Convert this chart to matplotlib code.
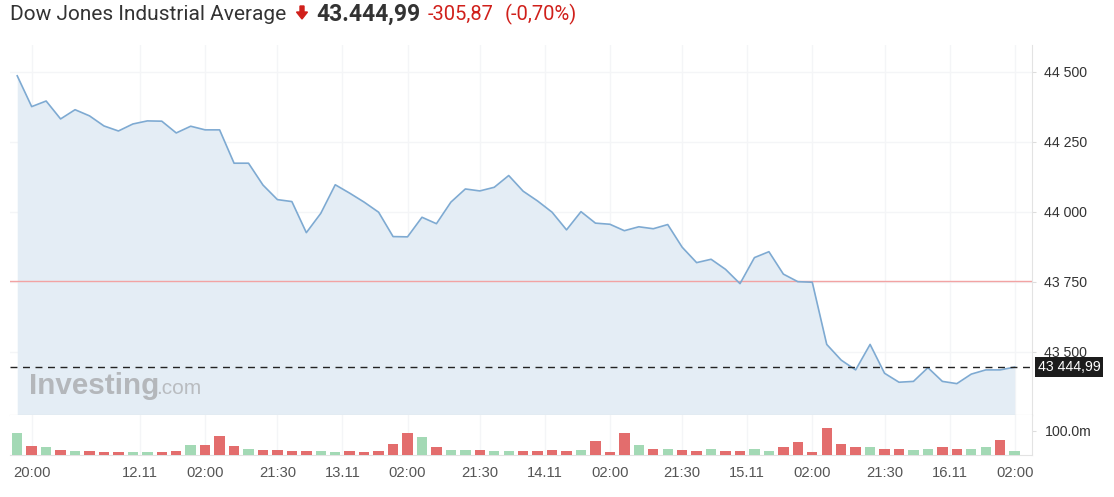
import numpy as np
import matplotlib
matplotlib.use("Agg")
import matplotlib.pyplot as plt
from matplotlib.patches import FancyArrow

# --- data ---
closes = [44485, 44375, 44395, 44331, 44364, 44342, 44306, 44288, 44313, 44324,
          44323, 44281, 44305, 44292, 44292, 44173, 44173, 44095, 44043, 44036,
          43925, 43994, 44096, 44066, 44034, 43998, 43911, 43910, 43980, 43957,
          44034, 44081, 44074, 44087, 44129, 44073, 44038, 43998, 43935, 44000,
          43959, 43955, 43932, 43946, 43939, 43954, 43873, 43818, 43830, 43794,
          43743, 43836, 43857, 43777, 43750, 43748, 43526, 43470, 43435, 43526,
          43423, 43391, 43394, 43443, 43394, 43386, 43420, 43435, 43435, 43444.99]

volumes = [89, 37, 32, 22, 15, 17, 11, 11, 11, 11,
           11, 17, 42, 43, 79, 37, 26, 22, 22, 17,
           17, 15, 11, 17, 11, 17, 47, 89, 75, 32,
           21, 21, 21, 15, 15, 17, 17, 21, 17, 21,
           58, 11, 89, 43, 26, 26, 21, 17, 26, 17,
           17, 26, 17, 32, 53, 11, 111, 47, 32, 32,
           26, 26, 21, 26, 32, 26, 26, 32, 62, 15]  # millions

vol_dir = list("GRGRGRRRGGRRGRRRGRRRRGGRRRRRGRGGRGGRRRRGRRRGRGRRGRRGGRRRRRRGRRGGRRGGRG")

tick_pos = [1, 8.5, 13, 18, 22.5, 27, 32, 36.5, 41, 46, 50.5, 55, 60, 64.5, 69]
tick_labels = ["20:00", "12.11", "02:00", "21:30", "13.11", "02:00", "21:30", "14.11",
               "02:00", "21:30", "15.11", "02:00", "21:30", "16.11", "02:00"]

price_ticks = [43500, 43750, 44000, 44250, 44500]
price_tick_labels = ["43 500", "43 750", "44 000", "44 250", "44 500"]
prev_close = 43750.86
last_price = 43444.99

title = "Dow Jones Industrial Average"
last_text = "43.444,99"
change_text = "-305,87"
pct_text = "(-0,70%)"

# --- styling ---
LINE = "#7eaad2"
FILL = "#e4edf5"
UP = "#a3d9b5"
DOWN = "#e36d6d"
GRID = "#f4f5f7"
TXT = "#333333"

W, H = 1114, 497
fig = plt.figure(figsize=(W / 100, H / 100), dpi=100)

def frac(x0, y0, x1, y1):
    return [x0 / W, 1 - y1 / H, (x1 - x0) / W, (y1 - y0) / H]

ax = fig.add_axes(frac(10, 45, 1032, 415))
axv = fig.add_axes(frac(10, 415, 1032, 455), sharex=ax)

x = np.arange(len(closes))
ax.set_axisbelow(True)
ax.fill_between(x, closes, 43000, color=FILL, lw=0, zorder=1)
ax.plot(x, closes, color=LINE, lw=1.2, zorder=3)
ax.axhline(prev_close, color="#f2a3a3", lw=1, zorder=2)
ax.axhline(last_price, color="#222222", lw=1, ls=(0, (5, 4)), zorder=4)

ax.set_xlim(-0.5, 70.2)
ax.set_ylim(43274, 44595)
ax.yaxis.tick_right()
ax.set_yticks(price_ticks)
ax.set_yticklabels(price_tick_labels)
ax.tick_params(axis="y", length=3, color="#dddddd", labelsize=10.2, labelcolor=TXT, pad=6)
ax.tick_params(axis="x", length=0, labelbottom=False)
ax.set_xticks(tick_pos)
ax.grid(True, color=GRID, lw=1, zorder=0)
for s in ["top", "left"]:
    ax.spines[s].set_visible(False)
ax.spines["right"].set_color("#e3e3e3")
ax.spines["bottom"].set_color("#cfcfcf")

# last price box
ax.annotate("43 444,99", xy=(1.0, last_price), xycoords=("axes fraction", "data"),
            xytext=(4, 0), textcoords="offset points", ha="left", va="center",
            fontsize=10.2, color="white", family="Liberation Sans",
            bbox=dict(boxstyle="square,pad=0.2", fc="#1c1c1c", ec="none"),
            annotation_clip=False, zorder=10)

# watermark
fig.text(29 / W, 1 - 386 / H, "Investing", fontsize=21.3, fontweight="bold", color="#b4b7bb",
         family="Liberation Sans", va="center", ha="left")
fig.text(156 / W, 1 - 388 / H, ".com", fontsize=15, color="#b9bcc0",
         family="Liberation Sans", va="center", ha="left")

# volume
colors = [UP if d == "G" else DOWN for d in vol_dir]
axv.set_axisbelow(True)
axv.bar(x, volumes, width=0.72, color=colors, zorder=3)
axv.set_ylim(0, 165)
axv.yaxis.tick_right()
axv.set_yticks([100])
axv.set_yticklabels(["100.0m"])
axv.tick_params(axis="y", length=3, color="#dddddd", labelsize=10.2, labelcolor=TXT, pad=6)
axv.set_xticks(tick_pos)
axv.set_xticklabels(tick_labels)
axv.tick_params(axis="x", length=0, labelsize=10.6, labelcolor="#555555", pad=8)
axv.grid(True, axis="x", color=GRID, lw=1, zorder=0)
for s in ["top", "left"]:
    axv.spines[s].set_visible(False)
axv.spines["right"].set_color("#e3e3e3")
axv.spines["bottom"].set_color("#e3e3e3")

for t in ax.get_yticklabels() + axv.get_yticklabels() + axv.get_xticklabels():
    t.set_family("Liberation Sans")

# header
fig.text(10 / W, 1 - 14 / H, title, fontsize=15, color=TXT, family="Roboto", va="center")
fig.patches.append(FancyArrow(302 / W, 1 - 6 / H, 0, -13 / H, width=4 / W,
                              head_width=11 / W, head_length=7 / H, length_includes_head=True,
                              color="#d0201b", transform=fig.transFigure, figure=fig))
fig.text(316 / W, 1 - 14 / H, last_text, fontsize=16.5, fontweight="bold", color=TXT,
         family="Roboto", va="center")
fig.text(428 / W, 1 - 14 / H, change_text, fontsize=14.5, color="#d0201b",
         family="Roboto", va="center")
fig.text(505 / W, 1 - 14 / H, pct_text, fontsize=14.5, color="#d0201b",
         family="Roboto", va="center")

fig.savefig("out.png", dpi=100, facecolor="white")
